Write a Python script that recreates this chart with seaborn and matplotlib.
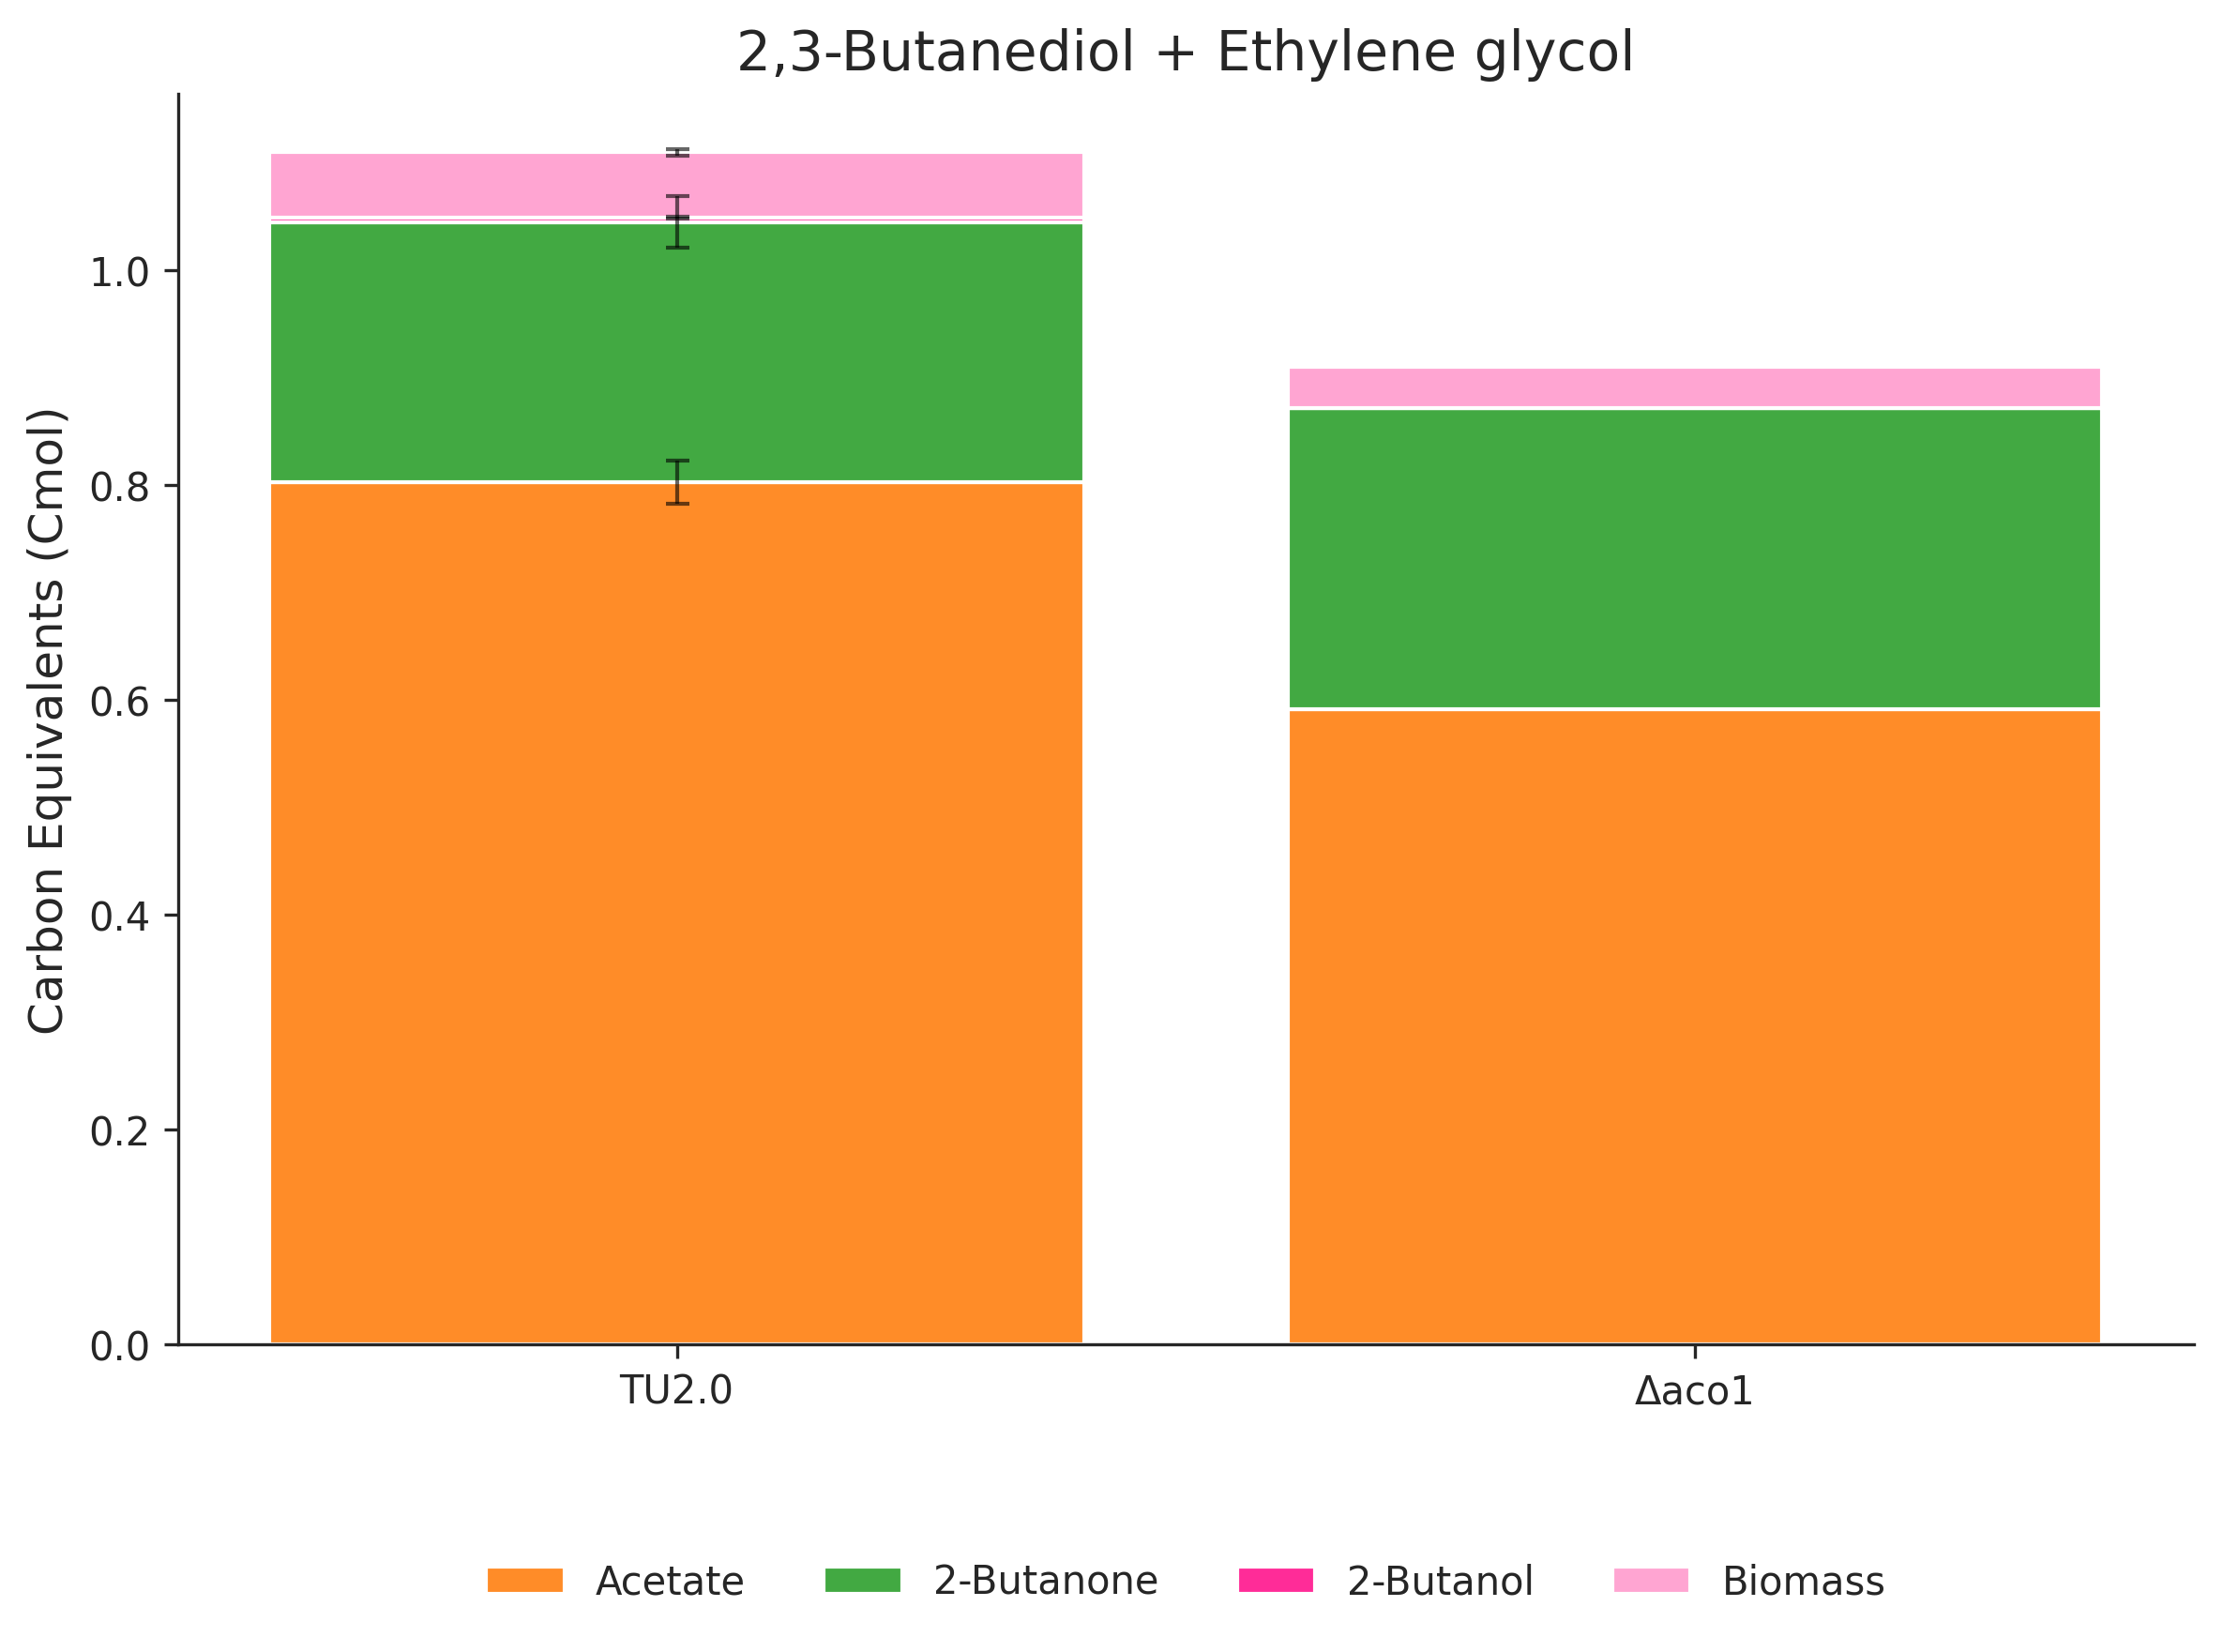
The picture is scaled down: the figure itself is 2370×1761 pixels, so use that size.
import matplotlib
matplotlib.use("Agg")
import matplotlib.pyplot as plt
import seaborn as sns
import numpy as np
import pandas as pd

strains = ["TU2.0", "Δaco1"]
series = ["Acetate", "2-Butanone", "2-Butanol", "Biomass"]
acetate = [0.803, 0.592]
butanone = [0.242, 0.280]
butanol = [0.004, 0.0]
biomass = [0.061, 0.038]
err_acetate = [0.020, 0.0]
err_butanone = [0.024, 0.0]
err_butanol = [0.001, 0.0]
err_biomass = [0.003, 0.0]
colors = ["#FF8C28", "#42A942", "#FF2C98", "#FFA5D2"]

sns.set_style("ticks")
plt.rcParams['font.family'] = ['DejaVu Sans']
fig = plt.figure(figsize=(7.9, 5.873), dpi=300)
ax = fig.add_axes([0.080, 0.186, 0.907, 0.757])

vals = [acetate, butanone, butanol, biomass]
errs = [err_acetate, err_butanone, err_butanol, err_biomass]
bottom = np.zeros(len(strains))
for name, v, e, c in zip(series, vals, errs, colors):
    df = pd.DataFrame({"strain": strains, "val": v})
    sns.barplot(data=df, x="strain", y="val", bottom=bottom, color=c, width=0.8,
                ax=ax, label=name, errorbar=None, saturation=1)
    top = bottom + np.array(v)
    for i in range(len(strains)):
        if e[i] > 0:
            ax.errorbar(i, top[i], yerr=e[i], fmt="none", ecolor="black",
                        alpha=0.6, capsize=3, lw=1)
    bottom = top

ax.set_ylim(0, 1.165)
ax.set_xlim(-0.49, 1.49)
ax.set_xlabel("")
ax.set_ylabel("Carbon Equivalents (Cmol)", fontsize=12)
ax.set_title("2,3-Butanediol + Ethylene glycol", fontsize=14)
sns.despine(ax=ax)
ax.legend(loc="center", bbox_to_anchor=(0.5, -0.19), ncol=4, frameon=False, fontsize=10)
fig.savefig("out.png", dpi=300)
